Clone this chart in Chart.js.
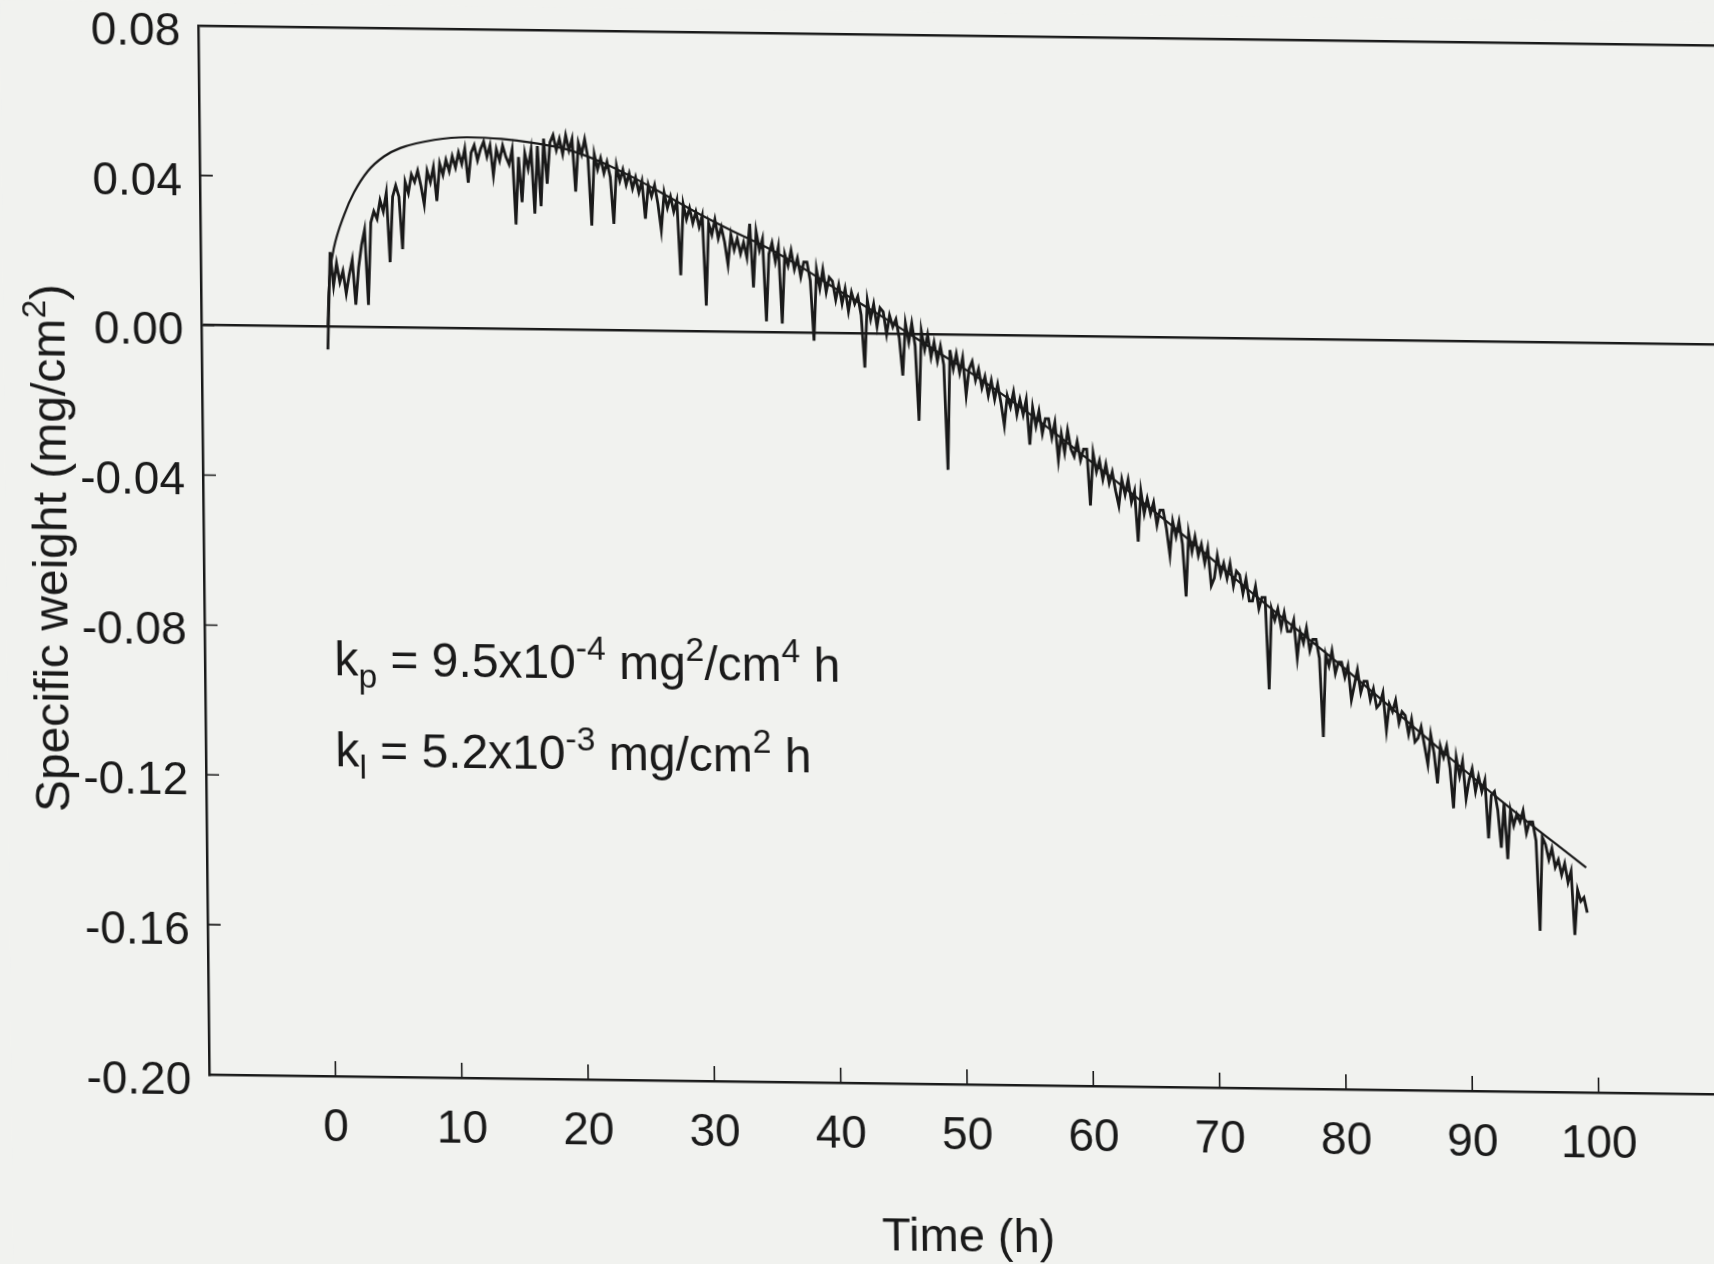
<!DOCTYPE html>
<html>
<head>
<meta charset="utf-8">
<title>Specific weight vs time</title>
<script src="https://cdn.jsdelivr.net/npm/chart.js@4.4.1/dist/chart.umd.min.js"></script>
<style>
  html, body { margin: 0; padding: 0; background: #f1f2ef; overflow: hidden; }
  #wrap { width: 1714px; height: 1264px; overflow: hidden; }
  /* the scanned page is slightly skewed */
  #chart { display: block; transform-origin: 0 0; transform: matrix(1, 0.013, 0.0105, 1, 0, 0); }
</style>
</head>
<body>
<div id="wrap"><canvas id="chart" width="1777" height="1264"></canvas></div>
<script>
// tick labels
const xTickValues = [0, 10, 20, 30, 40, 50, 60, 70, 80, 90, 100];
const yTickValues = [0.08, 0.04, 0.00, -0.04, -0.08, -0.12, -0.16, -0.20];

// measured specific weight, one row per hour, samples every 0.25 h
const sampleStep = 0.25;
const weightRows = [
  [-0.006, 0.020, 0.011, 0.017], // 0 h
  [0.012, 0.015, 0.009, 0.014],
  [0.018, 0.006, 0.016, 0.022],
  [0.026, 0.006, 0.028, 0.031],
  [0.029, 0.034, 0.031, 0.036],
  [0.0175, 0.035, 0.038, 0.035], // 5 h
  [0.021, 0.039, 0.036, 0.041],
  [0.039, 0.042, 0.038, 0.033],
  [0.042, 0.039, 0.043, 0.034],
  [0.044, 0.041, 0.045, 0.042],
  [0.046, 0.043, 0.047, 0.044], // 10 h
  [0.048, 0.039, 0.047, 0.049],
  [0.045, 0.048, 0.050, 0.046],
  [0.049, 0.041, 0.048, 0.045],
  [0.049, 0.046, 0.044, 0.048],
  [0.028, 0.046, 0.034, 0.047], // 15 h
  [0.043, 0.048, 0.031, 0.049],
  [0.033, 0.051, 0.039, 0.050],
  [0.052, 0.048, 0.051, 0.047],
  [0.052, 0.048, 0.051, 0.037],
  [0.050, 0.047, 0.051, 0.046], // 20 h
  [0.028, 0.047, 0.043, 0.046],
  [0.042, 0.045, 0.041, 0.0285],
  [0.044, 0.040, 0.043, 0.039],
  [0.042, 0.038, 0.041, 0.037],
  [0.040, 0.030, 0.039, 0.036], // 25 h
  [0.039, 0.034, 0.027, 0.037],
  [0.033, 0.036, 0.032, 0.035],
  [0.015, 0.034, 0.030, 0.033],
  [0.029, 0.032, 0.028, 0.031],
  [0.007, 0.029, 0.026, 0.030], // 30 h
  [0.025, 0.028, 0.024, 0.018],
  [0.026, 0.022, 0.025, 0.021],
  [0.024, 0.020, 0.029, 0.012],
  [0.027, 0.022, 0.025, 0.003],
  [0.021, 0.024, 0.019, 0.023], // 35 h
  [0.0025, 0.021, 0.018, 0.022],
  [0.017, 0.020, 0.015, 0.019],
  [0.019, 0.014, -0.002, 0.017],
  [0.012, 0.017, 0.011, 0.015],
  [0.014, 0.009, 0.013, 0.008], // 40 h
  [0.012, 0.006, 0.011, 0.008],
  [0.010, 0.005, -0.009, 0.009],
  [0.004, 0.008, 0.002, 0.007],
  [0.006, 0.000, 0.005, 0.002],
  [0.004, -0.001, -0.011, 0.003], // 45 h
  [-0.002, 0.003, -0.003, -0.023],
  [0.001, -0.004, 0.000, -0.006],
  [-0.002, -0.007, -0.003, -0.008],
  [-0.036, -0.004, -0.009, -0.005],
  [-0.010, -0.006, -0.016, -0.009], // 50 h
  [-0.007, -0.012, -0.009, -0.014],
  [-0.011, -0.016, -0.012, -0.017],
  [-0.013, -0.018, -0.024, -0.016],
  [-0.019, -0.015, -0.021, -0.017],
  [-0.021, -0.017, -0.029, -0.019], // 55 h
  [-0.024, -0.020, -0.026, -0.022],
  [-0.022, -0.027, -0.023, -0.033],
  [-0.026, -0.031, -0.025, -0.030],
  [-0.032, -0.028, -0.033, -0.030],
  [-0.030, -0.045, -0.031, -0.036], // 60 h
  [-0.033, -0.038, -0.034, -0.039],
  [-0.036, -0.041, -0.045, -0.038],
  [-0.042, -0.038, -0.044, -0.041],
  [-0.0545, -0.041, -0.047, -0.043],
  [-0.047, -0.044, -0.050, -0.046], // 65 h
  [-0.046, -0.051, -0.058, -0.049],
  [-0.053, -0.049, -0.055, -0.069],
  [-0.052, -0.057, -0.053, -0.058],
  [-0.055, -0.060, -0.056, -0.066],
  [-0.064, -0.058, -0.063, -0.060], // 70 h
  [-0.064, -0.060, -0.066, -0.062],
  [-0.063, -0.068, -0.064, -0.070],
  [-0.070, -0.066, -0.072, -0.069],
  [-0.069, -0.0935, -0.072, -0.075],
  [-0.072, -0.077, -0.073, -0.078], // 75 h
  [-0.078, -0.075, -0.085, -0.078],
  [-0.081, -0.077, -0.083, -0.080],
  [-0.080, -0.085, -0.106, -0.084],
  [-0.087, -0.083, -0.089, -0.086],
  [-0.086, -0.090, -0.087, -0.096], // 80 h
  [-0.092, -0.088, -0.094, -0.091],
  [-0.091, -0.096, -0.093, -0.098],
  [-0.097, -0.094, -0.104, -0.097],
  [-0.099, -0.096, -0.102, -0.099],
  [-0.100, -0.105, -0.101, -0.107], // 85 h
  [-0.106, -0.103, -0.108, -0.113],
  [-0.105, -0.110, -0.118, -0.108],
  [-0.111, -0.108, -0.114, -0.1246],
  [-0.111, -0.116, -0.112, -0.122],
  [-0.117, -0.114, -0.120, -0.116], // 90 h
  [-0.120, -0.117, -0.1325, -0.121],
  [-0.120, -0.125, -0.135, -0.123],
  [-0.138, -0.125, -0.129, -0.126],
  [-0.128, -0.125, -0.131, -0.128],
  [-0.128, -0.133, -0.157, -0.132], // 95 h
  [-0.134, -0.138, -0.135, -0.140],
  [-0.138, -0.142, -0.139, -0.144],
  [-0.141, -0.158, -0.146, -0.149],
  [-0.148, -0.152],
];

// fitted paralinear curve
const fitTimes = [0, 0.1, 0.25, 0.55, 1.4, 2.2, 3.3, 4.6, 5.9, 8.6, 11.2, 13.9, 16.5, 19.1, 21.7, 24.4,
  27, 29.6, 32.2, 34.9, 37.5, 40, 44, 48, 52, 56, 60.6, 67, 73.4, 80, 86, 92, 99.2];
const fitValues = [0, 0.009, 0.015, 0.021, 0.030, 0.036, 0.0417, 0.0457, 0.048, 0.0503, 0.0511, 0.0508,
  0.0498, 0.0482, 0.0451, 0.0408, 0.0361, 0.0313, 0.0269, 0.0226, 0.0177, 0.0125, 0.0045, -0.004,
  -0.0125, -0.022, -0.034, -0.051, -0.069, -0.087, -0.104, -0.121, -0.140];

const INK = '#1a1a1a';
const FONT = '"Liberation Sans", Arial, sans-serif';

const measured = weightRows.flatMap((row, h) =>
  row.map((v, k) => ({ x: h + k * sampleStep, y: v }))
);
const fitted = fitTimes.map((t, i) => ({ x: t, y: fitValues[i] }));

// text with sub/superscripts: parts are [text, 'sub'|'sup'|undefined]
const richWidth = (ctx, parts, size) =>
  parts.reduce((w, [text, kind]) => {
    ctx.font = `${kind ? size * 0.7 : size}px ${FONT}`;
    return w + ctx.measureText(text).width;
  }, 0);

const drawRich = (ctx, x, y, parts, size) => {
  parts.forEach(([text, kind]) => {
    ctx.font = `${kind ? size * 0.7 : size}px ${FONT}`;
    const dy = kind === 'sup' ? -size * 0.4 : kind === 'sub' ? size * 0.25 : 0;
    ctx.fillText(text, x, y + dy);
    x += ctx.measureText(text).width;
  });
};

const kpLine = [['k'], ['p', 'sub'], [' = 9.5x10'], ['-4', 'sup'], [' mg'], ['2', 'sup'], ['/cm'], ['4', 'sup'], [' h']];
const klLine = [['k'], ['l', 'sub'], [' = 5.2x10'], ['-3', 'sup'], [' mg/cm'], ['2', 'sup'], [' h']];
const yTitle = [['Specific weight (mg/cm'], ['2', 'sup'], [')']];

const paperPlugin = {
  id: 'paper',
  beforeDraw(chart) {
    const { ctx, width, height } = chart;
    ctx.save();
    ctx.fillStyle = '#f1f2ef';
    ctx.fillRect(0, 0, width, height);
    ctx.restore();
  },
  afterDraw(chart) {
    const { ctx, chartArea: a, scales: { x, y } } = chart;
    ctx.save();
    ctx.strokeStyle = INK;
    ctx.fillStyle = INK;

    // inward tick marks
    ctx.lineWidth = 1.6;
    ctx.beginPath();
    xTickValues.forEach(v => {
      const px = x.getPixelForValue(v);
      ctx.moveTo(px, a.bottom);
      ctx.lineTo(px, a.bottom - 15);
    });
    yTickValues.forEach(v => {
      const py = y.getPixelForValue(v);
      ctx.moveTo(a.left, py);
      ctx.lineTo(a.left + 13, py);
    });
    ctx.stroke();

    // axis titles
    ctx.textBaseline = 'middle';
    ctx.textAlign = 'center';
    ctx.font = `47px ${FONT}`;
    ctx.fillText('Time (h)', x.getPixelForValue(50), 1226);

    ctx.textAlign = 'left';
    ctx.textBaseline = 'alphabetic';
    ctx.save();
    ctx.translate(44, (a.top + a.bottom) / 2);
    ctx.rotate(-Math.PI / 2);
    drawRich(ctx, -richWidth(ctx, yTitle, 48) / 2, 17, yTitle, 48);
    ctx.restore();

    // rate constants
    drawRich(ctx, x.getPixelForValue(0.25), y.getPixelForValue(-0.093), kpLine, 48);
    drawRich(ctx, x.getPixelForValue(0.25), y.getPixelForValue(-0.1172), klLine, 48);
    ctx.restore();
  },
};

new Chart(document.getElementById('chart'), {
  type: 'line',
  data: {
    datasets: [
      {
        label: 'Measured',
        data: measured,
        borderColor: INK,
        borderWidth: 2.8,
        pointRadius: 0,
        tension: 0,
      },
      {
        label: 'Fit',
        data: fitted,
        borderColor: INK,
        borderWidth: 2.2,
        pointRadius: 0,
        cubicInterpolationMode: 'monotone',
      },
    ],
  },
  options: {
    responsive: false,
    animation: false,
    layout: { padding: { top: 23, left: 0, right: 0, bottom: 0 } },
    plugins: {
      legend: { display: false },
      tooltip: { enabled: false },
    },
    scales: {
      x: {
        type: 'linear',
        min: -10,
        max: 115,
        afterBuildTicks: scale => {
          scale.ticks = xTickValues.map(v => ({ value: v }));
        },
        afterFit: scale => {
          scale.height = 192;
          scale.paddingLeft = 0;
          scale.paddingRight = 0;
        },
        ticks: {
          autoSkip: false,
          maxRotation: 0,
          padding: 25,
          color: INK,
          font: { family: FONT, size: 46 },
          callback: v => String(v),
        },
        grid: { display: true, drawTicks: false, color: 'rgba(0,0,0,0)' },
        border: { display: true, color: INK, width: 2.5 },
      },
      y: {
        min: -0.2,
        max: 0.08,
        afterBuildTicks: scale => {
          scale.ticks = yTickValues.map(v => ({ value: v }));
        },
        afterFit: scale => {
          scale.width = 198;
          scale.paddingTop = 0;
          scale.paddingBottom = 0;
        },
        ticks: {
          autoSkip: false,
          padding: 18,
          labelOffset: 7,
          color: INK,
          font: { family: FONT, size: 46 },
          callback: v => v.toFixed(2),
        },
        grid: {
          drawTicks: false,
          lineWidth: 2.5,
          color: ctx => (ctx.tick && (ctx.tick.value === 0 || ctx.tick.value === 0.08)) ? INK : 'rgba(0,0,0,0)',
        },
        border: { display: true, color: INK, width: 2.5 },
      },
    },
  },
  plugins: [paperPlugin],
});
</script>
</body>
</html>
